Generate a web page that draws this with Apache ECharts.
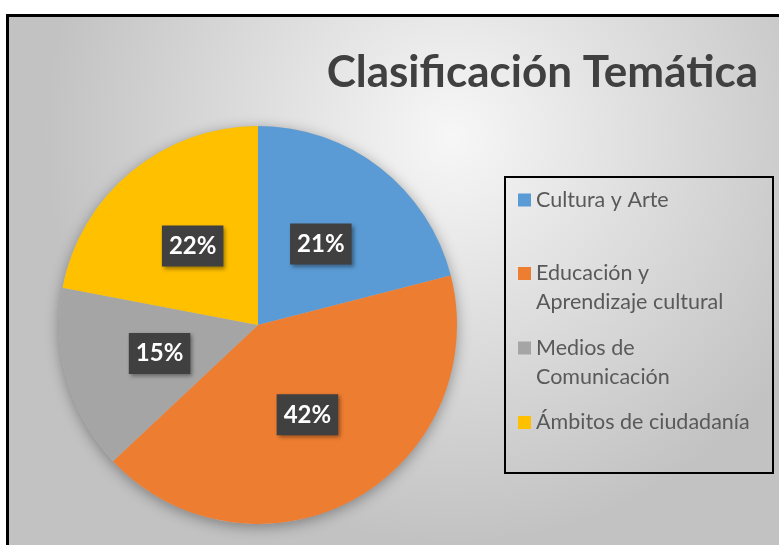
<!DOCTYPE html>
<html>
<head>
<meta charset="utf-8">
<script src="https://cdn.jsdelivr.net/npm/echarts@6/dist/echarts.min.js"></script>
<style>
  html, body { margin: 0; padding: 0; background: #fff; }
  #chart { width: 779px; height: 545px; }
</style>
</head>
<body>
<div id="chart"></div>
<script>
const categories = ['Cultura y Arte', 'Educación y Aprendizaje cultural', 'Medios de Comunicación', 'Ámbitos de ciudadanía']
// a blank first line keeps the icon level with the first text line
const legendLabels = ['Cultura y Arte', ' \nEducación y\nAprendizaje cultural', ' \nMedios de\nComunicación', 'Ámbitos de ciudadanía']
const percents = [21, 42, 15, 22]
const colors = ['#5B9BD5', '#ED7D31', '#A5A5A5', '#FFC000']

const font = 'Lato'
const legendTops = [185.5, 230, 304.5, 408] // one legend per entry, Word spaces them evenly

const myChart = echarts.init(document.getElementById('chart'))

const legends = categories.map((name, i) => ({
  left: 518,
  top: legendTops[i],
  padding: 0,
  itemWidth: 13,
  itemHeight: 13,
  icon: 'rect',
  selectedMode: false,
  formatter: () => legendLabels[i],
  textStyle: {
    fontFamily: font,
    fontSize: 21.5,
    color: '#595959',
    lineHeight: 29
  },
  data: [name]
}))

myChart.setOption({
  backgroundColor: {
    type: 'radial',
    x: 0.58,
    y: 0.25,
    r: 0.75,
    colorStops: [
      { offset: 0, color: '#f7f7f7' },
      { offset: 1, color: '#c2c2c2' }
    ]
  },
  color: colors,
  title: {
    text: 'Clasificación Temática',
    right: 16,
    top: 46,
    textStyle: {
      fontFamily: font,
      fontSize: 44,
      fontWeight: 'bold',
      color: '#404040'
    }
  },
  legend: legends,
  graphic: [
    // white margin outside the frame
    { type: 'rect', shape: { x: 0, y: 0, width: 779, height: 14 }, style: { fill: '#fff' }, z: 100 },
    { type: 'rect', shape: { x: 0, y: 0, width: 6, height: 545 }, style: { fill: '#fff' }, z: 100 },
    // frame
    { type: 'rect', shape: { x: 6, y: 14, width: 773, height: 3 }, style: { fill: '#000' }, z: 101 },
    { type: 'rect', shape: { x: 6, y: 14, width: 3, height: 531 }, style: { fill: '#000' }, z: 101 },
    // legend box
    { type: 'rect', shape: { x: 505, y: 177, width: 268, height: 296 }, style: { fill: 'none', stroke: '#000', lineWidth: 2 }, z: 50 }
  ],
  series: [
    {
      // shadow disc under the pie
      type: 'pie',
      silent: true,
      center: [258, 325],
      radius: 199,
      z: 1,
      label: { show: false },
      labelLine: { show: false },
      itemStyle: {
        color: '#bbb',
        shadowBlur: 14,
        shadowOffsetY: 3,
        shadowColor: 'rgba(0,0,0,0.35)'
      },
      data: [{ value: 1, name: '' }]
    },
    {
      type: 'pie',
      center: [258, 325],
      radius: 199,
      startAngle: 90,
      clockwise: true,
      z: 2,
      itemStyle: { borderWidth: 0 },
      label: {
        position: 'inside',
        formatter: p => p.value + '%',
        fontFamily: font,
        fontSize: 24,
        fontWeight: 'bold',
        color: '#fff',
        backgroundColor: '#404040',
        lineHeight: 28,
        padding: [7, 7, 6, 7],
        shadowBlur: 4,
        shadowOffsetX: 2,
        shadowOffsetY: 2,
        shadowColor: 'rgba(0,0,0,0.4)'
      },
      emphasis: { scale: false },
      data: categories.map((name, i) => ({ name, value: percents[i] }))
    }
  ]
})
</script>
</body>
</html>
